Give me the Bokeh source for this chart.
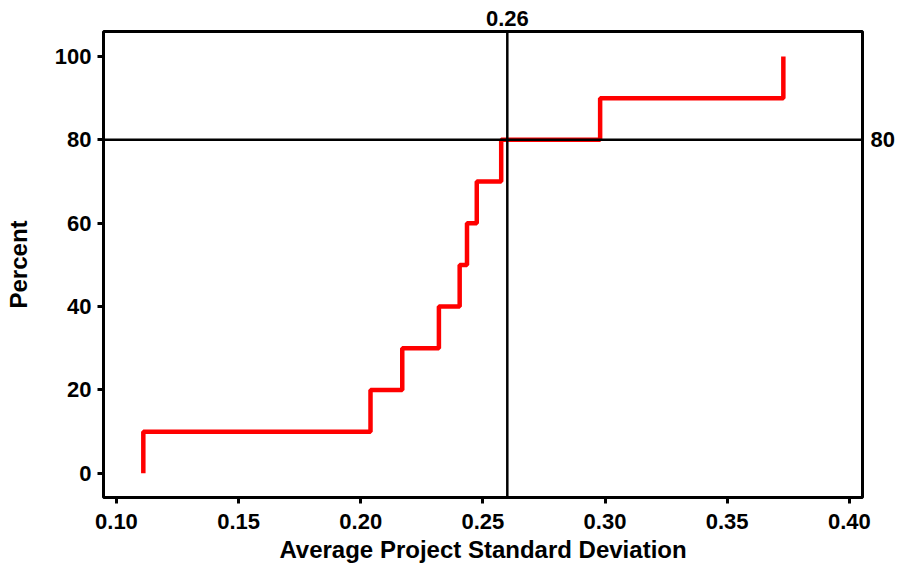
import numpy as np
from bokeh.plotting import figure
from bokeh.models import (Range1d, FixedTicker, PrintfTickFormatter, LinearAxis, Span)
from bokeh.embed import file_html
from bokeh.resources import INLINE

# Data: empirical cumulative distribution (step positions and percent levels)
step_x = [0.111, 0.204, 0.217, 0.232, 0.2405, 0.2435, 0.2475, 0.2575, 0.298, 0.373]
percent = [10, 20, 30, 40, 50, 60, 70, 80, 90, 100]
ref_x = 0.26
ref_y = 80
x_ticks = [0.10, 0.15, 0.20, 0.25, 0.30, 0.35, 0.40]
y_ticks = [0, 20, 40, 60, 80, 100]

# build step path from data
sx = np.asarray(step_x)
py = np.asarray(percent, dtype=float)
prev = np.concatenate([[0.0], py[:-1]])
path_x = np.repeat(sx, 2)
path_y = np.column_stack([prev, py]).ravel()

FONT = "Liberation Sans"

p = figure(width=900, height=571, output_backend="svg", toolbar_location=None,
           x_range=Range1d(0.0947, 0.4054), y_range=Range1d(-5.8, 106),
           min_border_left=103, min_border_right=38, min_border_top=31, min_border_bottom=74,
           background_fill_color="white", border_fill_color="white")
p.grid.visible = False
p.outline_line_color = "black"
p.outline_line_width = 3
p.outline_line_alpha = 1.0

p.line(path_x, path_y, line_color="#FF0000", line_width=4.5)

p.add_layout(Span(location=ref_x, dimension="height", line_color="black", line_width=2.5))
p.add_layout(Span(location=ref_y, dimension="width", line_color="black", line_width=2.5))

def style(ax, tick_out=6):
    ax.axis_line_color = None
    ax.major_tick_in = 0
    ax.major_tick_out = tick_out
    ax.major_tick_line_width = 3
    ax.minor_tick_line_color = None
    ax.major_label_text_font = FONT
    ax.major_label_text_font_style = "bold"
    ax.major_label_text_font_size = "22px"
    ax.major_label_text_color = "black"
    ax.axis_label_text_font = FONT
    ax.axis_label_text_font_style = "bold"
    ax.axis_label_text_font_size = "24px"
    ax.axis_label_text_color = "black"

xa = p.xaxis[0]
xa.ticker = FixedTicker(ticks=x_ticks)
xa.formatter = PrintfTickFormatter(format="%.2f")
xa.axis_label = "Average Project Standard Deviation"
style(xa)
xa.major_label_standoff = 10
xa.axis_label_standoff = 4

ya = p.yaxis[0]
ya.ticker = FixedTicker(ticks=y_ticks)
ya.axis_label = "Percent"
style(ya)
ya.major_label_standoff = 6
ya.axis_label_standoff = 20

ra = LinearAxis(ticker=FixedTicker(ticks=[ref_y]), formatter=PrintfTickFormatter(format="%d"))
style(ra, tick_out=0)
ra.major_tick_line_color = None
ra.major_label_standoff = 8
p.add_layout(ra, "right")

ta = LinearAxis(ticker=FixedTicker(ticks=[ref_x]), formatter=PrintfTickFormatter(format="%.2f"))
style(ta, tick_out=0)
ta.major_tick_line_color = None
ta.major_label_standoff = 6
p.add_layout(ta, "above")

open("out.html", "w").write(file_html(p, INLINE))
